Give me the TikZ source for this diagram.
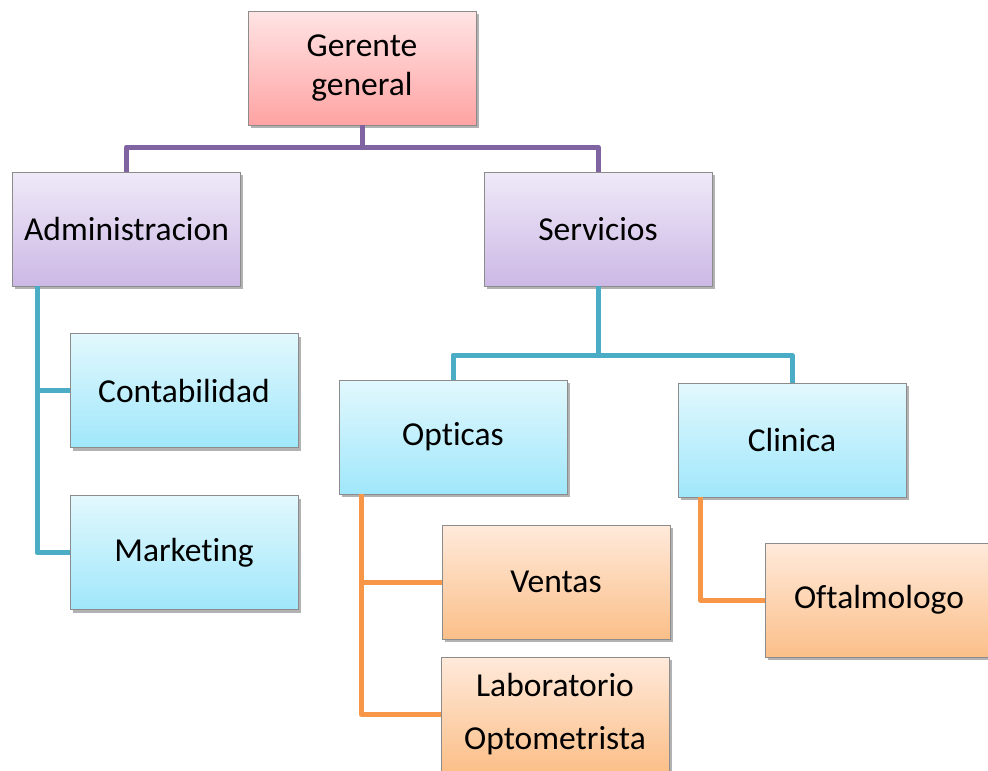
\documentclass[tikz,border=0pt]{standalone}
\usepackage{fontspec}
\setmainfont{Carlito}[Ligatures={NoCommon}]
\usetikzlibrary{shadows}

\definecolor{pinkTop}{HTML}{FFE4E4}
\definecolor{pinkBot}{HTML}{FFA3A3}
\definecolor{purpTop}{HTML}{EFE9F8}
\definecolor{purpBot}{HTML}{CCB8E5}
\definecolor{cyanTop}{HTML}{E2F8FD}
\definecolor{cyanBot}{HTML}{A0E7FB}
\definecolor{orgTop}{HTML}{FFEADB}
\definecolor{orgBot}{HTML}{FBBF89}
\definecolor{boxLine}{HTML}{8C8C8C}
\definecolor{linkPurple}{HTML}{8064A2}
\definecolor{linkTeal}{HTML}{4BACC6}
\definecolor{linkOrange}{HTML}{F79646}

\tikzset{
  unit/.style={draw=boxLine, line width=0.9pt, minimum width=228pt, minimum height=114pt,
    inner sep=0pt, align=center, font=\fontsize{33.5}{39}\selectfont,
    drop shadow={shadow xshift=2.5pt, shadow yshift=-3pt, opacity=0.3, fill=black}},
  toplevel/.style={unit, top color=pinkTop, bottom color=pinkBot},
  division/.style={unit, top color=purpTop, bottom color=purpBot},
  section/.style={unit, top color=cyanTop, bottom color=cyanBot},
  post/.style={unit, top color=orgTop, bottom color=orgBot},
  link/.style={line width=5pt, line join=round},
}

\begin{document}
\begin{tikzpicture}[x=1pt, y=-1pt]
  \clip (0,0) rectangle (988,771);
  \fill[white] (0,0) rectangle (988,771);

  % bus coordinates
  \coordinate (gbus) at (362,147);
  \coordinate (abus) at (37,0);
  \coordinate (sbus) at (598,355);
  \coordinate (obus) at (361,0);
  \coordinate (cbus) at (700,0);

  % boxes
  \node[toplevel] (ger) at (362,68) {Gerente\\general};
  \node[division] (adm) at (126.5,229) {Administracion};
  \node[division] (srv) at (598,229) {Servicios};
  \node[section] (con) at (184,390.5) {Contabilidad};
  \node[section] (mkt) at (184,552.5) {Marketing};
  \node[section] (opt) at (453,437) {Opticas};
  \node[section] (cli) at (792,440) {Clinica};
  \node[post] (ven) at (556,582) {Ventas};
  \node[post] (lab) at (555,714) {Laboratorio\\[14pt]Optometrista};
  \node[post] (oft) at (879,600) {Oftalmologo};

  % connectors
  \draw[link, linkPurple] (ger.south) -- (gbus);
  \draw[link, linkPurple] (adm.north) |- (gbus) -| (srv.north);

  \draw[link, linkTeal] (adm.south -| abus) |- (mkt.west);
  \draw[link, linkTeal] (adm.south -| abus) |- (con.west);
  \draw[link, linkTeal] (srv.south) -- (sbus);
  \draw[link, linkTeal] (opt.north) |- (sbus) -| (cli.north);

  \draw[link, linkOrange] (opt.south -| obus) |- (lab.west);
  \draw[link, linkOrange] (opt.south -| obus) |- (ven.west);
  \draw[link, linkOrange] (cli.south -| cbus) |- (oft.west);
\end{tikzpicture}
\end{document}
